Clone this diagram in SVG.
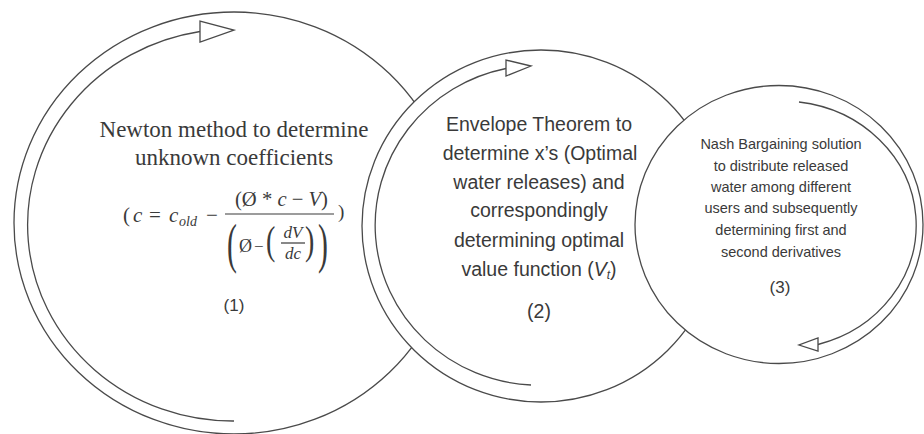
<svg xmlns="http://www.w3.org/2000/svg" width="924" height="434" viewBox="0 0 924 434">
<style>
.ring{fill:#fff;stroke:#4a4a4a;stroke-width:1.3}
.arc{fill:none;stroke:#4a4a4a;stroke-width:1.3}
.head{fill:#fff;stroke:#4a4a4a;stroke-width:1.3;stroke-linejoin:miter}
.serif{font-family:"Liberation Serif","Times New Roman",serif;fill:#3a3a3a}
.sans{font-family:"Liberation Sans",Arial,sans-serif;fill:#3a3a3a}
.bar{stroke:#3a3a3a;stroke-width:1.2}
</style>
<rect width="924" height="434" fill="#fff"/>
<g id="node1">
<ellipse class="ring" cx="234" cy="223" rx="220" ry="211"/>
<g id="connectors1">
<path class="arc" d="M234,421 A205,196 0 0 1 200,31.5"/>
<polygon class="head" points="200,21 200,42 234,30"/>
</g>
<text class="serif" x="234" y="137" font-size="23" text-anchor="middle">Newton method to determine</text>
<text class="serif" x="234" y="165" font-size="23" text-anchor="middle">unknown coefficients</text>
<g class="serif" font-size="21">
<text x="123" y="222">(</text>
<text x="133" y="222" font-style="italic">c</text>
<text x="149" y="222">=</text>
<text x="169" y="222" font-style="italic">c</text>
<text x="179" y="226" font-size="14" font-style="italic">old</text>
<text x="206" y="222">−</text>
<line class="bar" x1="225" y1="214" x2="334" y2="214"/>
<text x="235" y="206" textLength="93" lengthAdjust="spacingAndGlyphs">(Ø * <tspan font-style="italic">c</tspan> − <tspan font-style="italic">V</tspan>)</text>
<text transform="translate(227,262) scale(0.55,1)" font-size="54">(</text>
<text x="239" y="252" font-size="18">Ø</text>
<text x="254" y="252" font-size="17">−</text>
<text transform="translate(266,254) scale(0.7,1)" font-size="40">(</text>
<text x="293" y="238" font-size="17" text-anchor="middle" font-style="italic">dV</text>
<line class="bar" x1="281" y1="243" x2="305" y2="243"/>
<text x="293" y="259" font-size="17" text-anchor="middle" font-style="italic">dc</text>
<text transform="translate(305,254) scale(0.7,1)" font-size="40">)</text>
<text transform="translate(318,262) scale(0.55,1)" font-size="54">)</text>
<text x="338" y="218" font-size="19">)</text>
</g>
<text class="sans" x="234" y="311" font-size="17" text-anchor="middle">(1)</text>
</g>
<g id="node2">
<ellipse class="ring" cx="541" cy="226" rx="179" ry="176"/>
<g id="connectors2">
<path class="arc" d="M531,385 A164,160 0 0 1 506,68.5"/>
<polygon class="head" points="506,60 506,76 531,66"/>
</g>
<g class="sans" font-size="19.5" text-anchor="middle">
<text x="539" y="131">Envelope Theorem to</text>
<text x="540" y="160">determine x’s (Optimal</text>
<text x="539" y="189">water releases) and</text>
<text x="539" y="217">correspondingly</text>
<text x="539" y="247">determining optimal</text>
<text x="539" y="276">value function (<tspan font-style="italic">V</tspan><tspan font-style="italic" font-size="12" dy="3">t</tspan><tspan dy="-3">)</tspan></text>
<text x="539" y="318">(2)</text>
</g>
</g>
<g id="node3">
<ellipse class="ring" cx="779" cy="224.5" rx="144" ry="139"/>
<g id="connectors3">
<path class="arc" d="M799,102 A134,124 0 0 1 818,344.5"/>
<polygon class="head" points="818,338 818,351 799,345"/>
</g>
<g class="sans" font-size="14.5" text-anchor="middle">
<text x="781" y="149">Nash Bargaining solution</text>
<text x="781" y="171">to distribute released</text>
<text x="781" y="192">water among different</text>
<text x="781" y="213">users and subsequently</text>
<text x="781" y="235">determining first and</text>
<text x="781" y="257">second derivatives</text>
<text x="780" y="293" font-size="17">(3)</text>
</g>
</g>
</svg>
